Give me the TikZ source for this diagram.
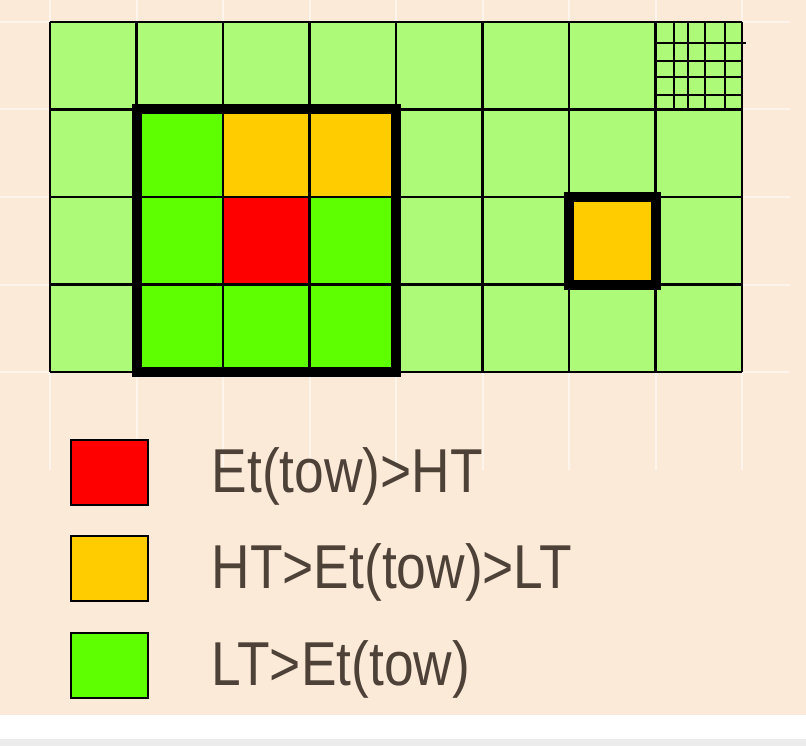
\documentclass[tikz,border=0pt]{standalone}
\usepackage{fontspec}
\setmainfont{Liberation Sans}
\usetikzlibrary{positioning}

\definecolor{bgpeach}{RGB}{252,234,216}
\definecolor{stripgrey}{RGB}{236,236,236}
\definecolor{towpale}{RGB}{172,250,120}
\definecolor{towgreen}{RGB}{94,255,0}
\definecolor{toworange}{RGB}{255,204,0}
\definecolor{towred}{RGB}{255,0,0}
\definecolor{keyink}{RGB}{78,66,56}

\tikzset{
  gridline/.style={draw=black,line width=2.2pt},
  patchbox/.style={draw=black,line width=10pt},
  ghostline/.style={draw=white,line width=2pt,opacity=0.5},
  keybox/.style={draw=black,line width=2pt,inner sep=0pt,minimum width=77pt,minimum height=65pt},
  keylabel/.style={text=keyink,inner sep=0pt,yshift=-4pt,font=\fontsize{62}{62}\selectfont}
}
\newcommand{\narrow}[1]{\scalebox{0.86}[1]{#1}}

\begin{document}
\begin{tikzpicture}[x=1pt,y=-1pt]
    \useasboundingbox (0,0) rectangle (806,746);
    \fill[bgpeach] (0,0) rectangle (806,715);
    \fill[white] (0,715) rectangle (806,739);
    \fill[stripgrey] (0,739) rectangle (806,746);

    % faint background grid
    \foreach \i in {0,...,8}
        \draw[ghostline] (50+86.5*\i,0) -- (50+86.5*\i,470);
    \foreach \j in {0,...,4}
        \draw[ghostline] (0,22+87.5*\j) -- (790,22+87.5*\j);

    % tower cells
    \fill[towpale] (50,22) rectangle (742,372);
    \fill[towgreen] (136.5,109.5) rectangle (396,372);
    \fill[toworange] (223,109.5) rectangle (396,197);
    \fill[towred] (223,197) rectangle (309.5,284.5);
    \fill[toworange] (569,197) rectangle (655.5,284.5);
    \foreach \i in {0,...,8}
        \draw[gridline] (50+86.5*\i,22) -- (50+86.5*\i,372);
    \foreach \j in {0,...,4}
        \draw[gridline] (50,22+87.5*\j) -- (742,22+87.5*\j);

    % fine segmentation in the corner cell
    \foreach \x in {674,705,725}
        \draw[gridline] (\x,22) -- (\x,109.5);
    \draw[gridline,line width=1.2pt] (688,22) -- (688,109.5);
    \foreach \y in {61,77,95}
        \draw[gridline] (655.5,\y) -- (742,\y);
    \draw[gridline] (655.5,43) -- (746,43);

    % trigger patches
    \draw[patchbox] (136.5,109.5) rectangle (396,372);
    \draw[patchbox] (569,197) rectangle (655.5,284.5);

    % legend
    \node[keybox,fill=towred] (redkey) at (109,472) {};
    \node[keybox,fill=toworange,below=29pt of redkey] (orangekey) {};
    \node[keybox,fill=towgreen,below=30pt of orangekey] (greenkey) {};
    \node[keylabel,right=63pt of redkey] (redlabel) {\narrow{Et(tow)>HT}};
    \node[keylabel,right=63pt of orangekey] (orangelabel) {\narrow{HT>Et(tow)>LT}};
    \node[keylabel,right=63pt of greenkey] (greenlabel) {\narrow{LT>Et(tow)}};
\end{tikzpicture}
\end{document}
